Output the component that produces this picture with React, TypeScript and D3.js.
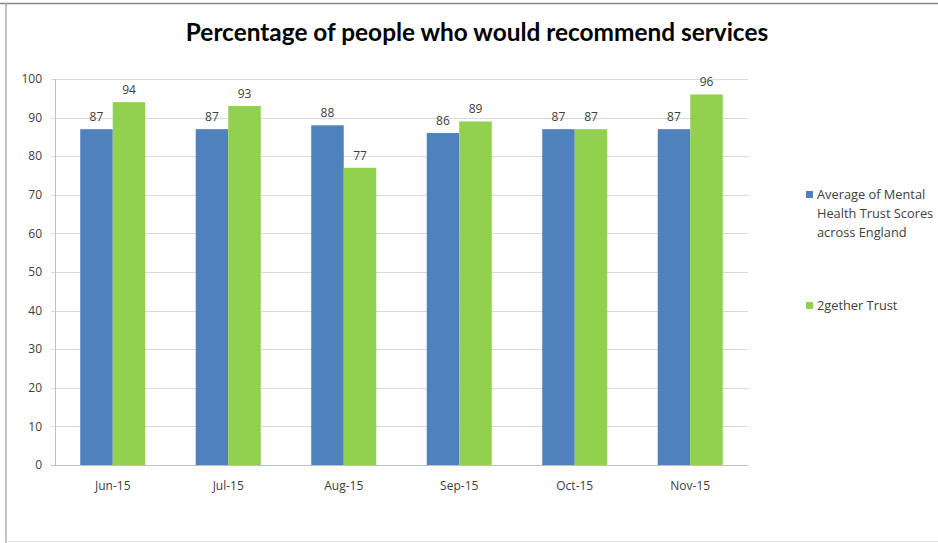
import React from "react";
import * as d3 from "d3";

const months = ["Jun-15", "Jul-15", "Aug-15", "Sep-15", "Oct-15", "Nov-15"];
const avgScores = [87, 87, 88, 86, 87, 87];
const trustScores = [94, 93, 77, 89, 87, 96];
const seriesNames = ["Average of Mental Health Trust Scores across England", "2gether Trust"];
const legendLines = [["Average of Mental", "Health Trust Scores", "across England"], ["2gether Trust"]];
const yTicks = [0, 10, 20, 30, 40, 50, 60, 70, 80, 90, 100];
const colors = ["#4F81BD", "#92D050"];

const W = 938;
const H = 543;
const FONT = "'Open Sans', 'DejaVu Sans', sans-serif";

export default function App() {
  const x = d3.scaleBand<string>().domain(months).range([55, 748]).paddingInner(0.437).paddingOuter(0.2185);
  const x1 = d3.scaleBand<number>().domain([0, 1]).range([0, x.bandwidth()]);
  const y = d3.scaleLinear().domain([0, 100]).range([465, 79]);
  const series = [avgScores, trustScores];

  return (
    <svg width={W} height={H} style={{ position: "absolute", left: 0, top: 0, background: "#fff" }} fontFamily={FONT}>
      <rect x={0} y={0} width={W} height={H} fill="#fff" />
      {/* outer frame */}
      <line x1={0} x2={W} y1={3.5} y2={3.5} stroke="#8a8a8a" strokeWidth={1.5} />
      <line x1={6} x2={6} y1={3} y2={H} stroke="#9a9a9a" strokeWidth={1.2} />
      <line x1={6} x2={W} y1={541.5} y2={541.5} stroke="#e4e4e4" strokeWidth={1} />

      <text x={477} y={41} textAnchor="middle" fontSize={24.4} fontWeight="bold" fill="#000" fontFamily="Lato, 'Open Sans', sans-serif">
        Percentage of people who would recommend services
      </text>

      {/* gridlines */}
      {yTicks.map((t) => (
        <g key={t}>
          <line x1={51} x2={748} y1={Math.round(y(t)) + 0.5} y2={Math.round(y(t)) + 0.5} stroke={t === 0 ? "#bfbfbf" : "#d9d9d9"} strokeWidth={1} />
          <text x={42} y={y(t)} dy="0.35em" textAnchor="end" fontSize={12} fill="#404040">
            {t}
          </text>
        </g>
      ))}
      <line x1={55.5} x2={55.5} y1={y(100)} y2={y(0)} stroke="#bfbfbf" strokeWidth={1} />

      {/* bars */}
      {months.map((m, i) => (
        <g key={m} transform={`translate(${x(m)},0)`}>
          {series.map((s, j) => (
            <g key={j}>
              <rect x={x1(j)} y={y(s[i])} width={x1.bandwidth()} height={y(0) - y(s[i])} fill={colors[j]} />
              <text x={(x1(j) as number) + x1.bandwidth() / 2} y={y(s[i]) - 8} textAnchor="middle" fontSize={12} fill="#404040">
                {s[i]}
              </text>
            </g>
          ))}
          <text x={x.bandwidth() / 2} y={490} textAnchor="middle" fontSize={12} fill="#404040">
            {m}
          </text>
        </g>
      ))}

      {/* legend */}
      {seriesNames.map((name, j) => {
        const top = j === 0 ? 195 : 306;
        return (
          <g key={name}>
            <rect x={806} y={top - 4} width={7} height={7} fill={colors[j]} />
            {legendLines[j].map((ln, k) => (
              <text key={k} x={817} y={top + k * 19} dy="0.35em" fontSize={12.8} fill="#404040">
                {ln}
              </text>
            ))}
          </g>
        );
      })}
    </svg>
  );
}
